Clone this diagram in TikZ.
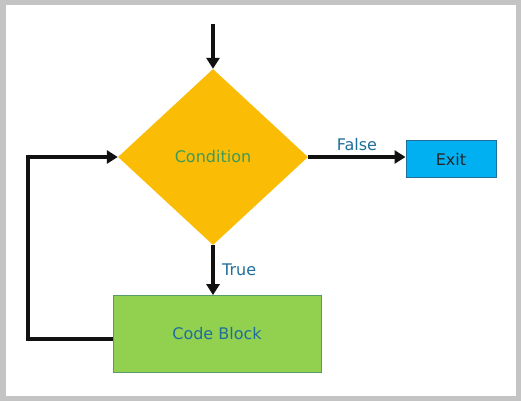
\documentclass[tikz,border=0pt]{standalone}
\usepackage{fontspec}
\setmainfont{DejaVu Sans}
\usetikzlibrary{shapes.geometric,arrows.meta}
\definecolor{frame}{HTML}{C4C4C4}
\definecolor{condfill}{HTML}{FBBC05}
\definecolor{condtext}{HTML}{3C9A5A}
\definecolor{codefill}{HTML}{92D050}
\definecolor{codeedge}{HTML}{5A9A6A}
\definecolor{exitfill}{HTML}{00B0F0}
\definecolor{exitedge}{HTML}{1F6E9C}
\definecolor{labeltext}{HTML}{1F6E9C}
\definecolor{linec}{HTML}{111111}
\tikzset{
  flow/.style={line width=3.6pt, draw=linec, -{Triangle[length=11pt,width=13pt]}},
  lbl/.style={text=labeltext, font=\fontsize{16}{18}\selectfont},
  boxfont/.style={font=\fontsize{16}{18}\selectfont},
}
\begin{document}
\begin{tikzpicture}[x=1pt,y=-1pt]
\useasboundingbox (0,0) rectangle (521,401);
\fill[frame] (0,0) rectangle (521,401);
\fill[white] (6,5) rectangle (516,396);
\node[diamond, fill=condfill, minimum width=190pt, minimum height=176pt, inner sep=0pt, aspect=1.08, text=condtext, boxfont] (cond) at (213,157) {Condition};
\node[draw=exitedge, line width=1pt, fill=exitfill, minimum width=90pt, minimum height=37pt, inner sep=0pt, text=black!85, boxfont] (exit) at (451,159) {Exit};
\node[draw=codeedge, line width=0.8pt, fill=codefill, minimum width=208pt, minimum height=77pt, inner sep=0pt, text=labeltext, boxfont] (code) at (217,334) {Code Block};
\coordinate (start) at (213,24);
\coordinate (loopA) at (28,339);
\coordinate (loopB) at (28,157);
\draw[flow] (start) -- (cond.north);
\draw[flow] (cond.east) -- node[lbl, above=1pt] {False} (exit.west |- cond.east);
\draw[flow] (cond.south) -- node[lbl, right=4pt] {True} (cond.south |- code.north);
\draw[flow] (code.west |- loopA) -- (loopA) -- (loopB) -- (cond.west);
\end{tikzpicture}
\end{document}
